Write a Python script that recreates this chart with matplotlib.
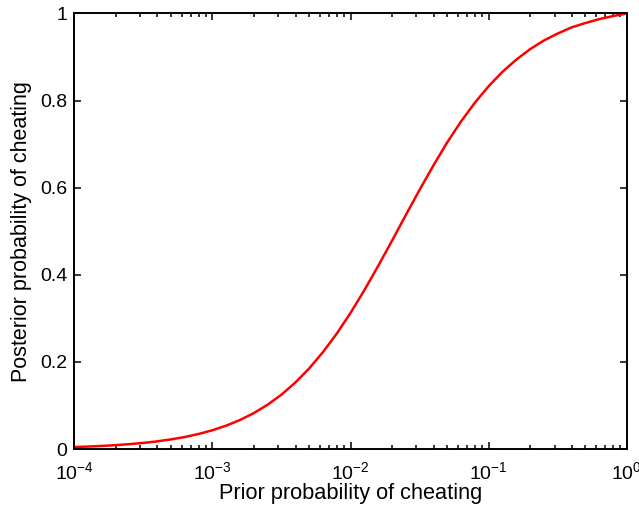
import matplotlib
matplotlib.use("Agg")
import matplotlib.pyplot as plt
from matplotlib.ticker import LogLocator, FixedLocator

plt.rcParams["font.family"] = ["Liberation Sans", "DejaVu Sans"]
plt.rcParams["mathtext.default"] = "regular"

# values (prior -> posterior)
prior = [1.0e-4, 1.259e-4, 1.585e-4, 1.995e-4, 2.512e-4, 3.162e-4, 3.981e-4, 5.012e-4,
         6.310e-4, 7.943e-4, 1.0e-3, 1.259e-3, 1.585e-3, 1.995e-3, 2.512e-3, 3.162e-3,
         3.981e-3, 5.012e-3, 6.310e-3, 7.943e-3, 1.0e-2, 1.259e-2, 1.585e-2, 1.995e-2,
         2.512e-2, 3.162e-2, 3.981e-2, 5.012e-2, 6.310e-2, 7.943e-2, 0.1, 0.1259,
         0.1585, 0.1995, 0.2512, 0.3162, 0.3981, 0.5012, 0.6310, 0.7943, 1.0]
posterior = [0.0045, 0.0056, 0.0071, 0.0089, 0.0112, 0.0140, 0.0176, 0.0221,
             0.0276, 0.0345, 0.0431, 0.0537, 0.0667, 0.0825, 0.1018, 0.1249,
             0.1525, 0.1848, 0.2223, 0.2649, 0.3125, 0.3646, 0.4202, 0.478,
             0.537, 0.595, 0.651, 0.704, 0.752, 0.795, 0.833, 0.866,
             0.894, 0.918, 0.938, 0.954, 0.968, 0.978, 0.987, 0.994, 1.0]

fig = plt.figure(figsize=(6.39, 5.11), dpi=100)
ax = fig.add_axes([0.1163, 0.1213, 0.8645, 0.8523])
ax.plot(prior, posterior, color="red", lw=1.8)

ax.set_xscale("log")
ax.set_xlim(1e-4, 1)
ax.set_ylim(0, 1)
ax.xaxis.set_major_locator(LogLocator(base=10, numticks=10))
ax.xaxis.set_minor_locator(LogLocator(base=10, subs=range(2, 10), numticks=20))
ax.yaxis.set_major_locator(FixedLocator([0, 0.2, 0.4, 0.6, 0.8, 1.0]))
ax.set_yticklabels(["0", "0.2", "0.4", "0.6", "0.8", "1"])

for s in ax.spines.values():
    s.set_linewidth(1.4)
ax.tick_params(which="both", direction="in", top=True, right=True, labelsize=14, width=1.1)
ax.tick_params(which="major", length=5)
ax.tick_params(which="minor", length=3)
ax.tick_params(axis="x", which="major", pad=9)
ax.tick_params(axis="y", which="major", pad=5)

ax.set_xlabel("Prior probability of cheating", fontsize=15.7, labelpad=0)
ax.set_ylabel("Posterior probability of cheating", fontsize=15.5, labelpad=6)

fig.savefig("out.png", dpi=100)
